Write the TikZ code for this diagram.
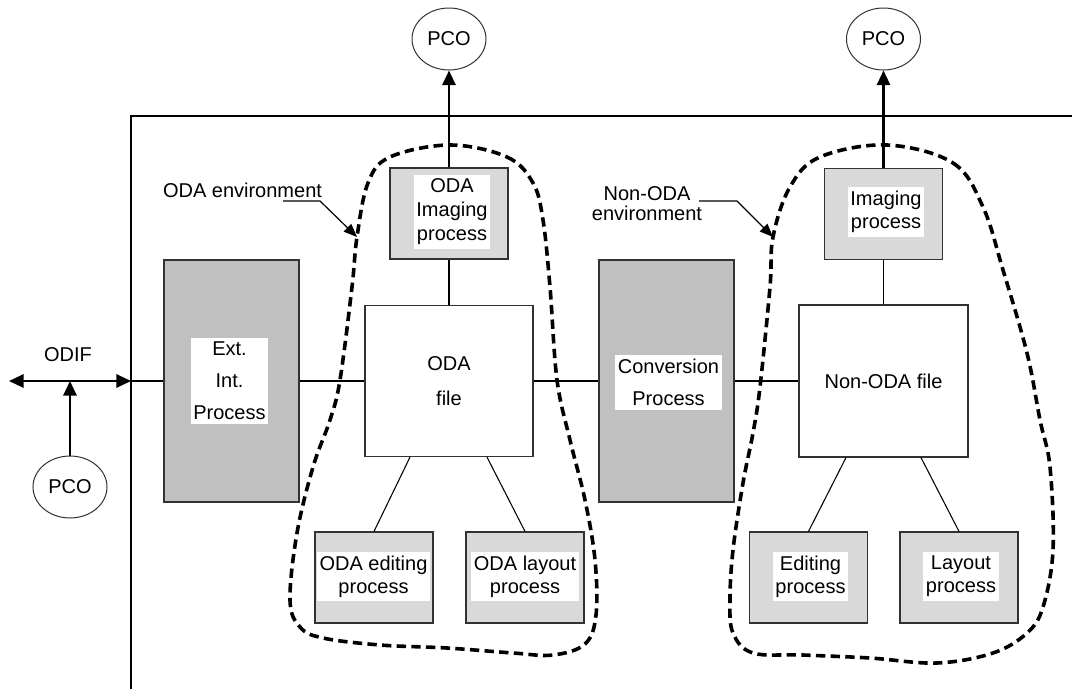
\documentclass[tikz,border=0pt]{standalone}
\usepackage{fontspec}
\setmainfont{Liberation Sans}
\usetikzlibrary{arrows.meta,calc,shapes.geometric}
\definecolor{darkbox}{RGB}{192,192,192}
\definecolor{lightbox}{RGB}{217,217,217}
\definecolor{edge}{RGB}{50,50,50}
\begin{document}
\begin{tikzpicture}[x=0.75pt,y=-0.75pt,
  font=\fontsize{15}{18}\selectfont,
  bigbox/.style={draw=edge,line width=0.9pt,fill=darkbox,minimum width=101.25pt,minimum height=181.5pt,inner sep=0pt},
  filebox/.style={draw=edge,line width=0.9pt,fill=white,inner sep=0pt,align=center},
  smallbox/.style={draw=edge,line width=0.9pt,fill=lightbox,minimum width=88.5pt,minimum height=68.25pt,inner sep=0pt},
  lbl/.style={fill=white,inner xsep=2pt,inner ysep=3pt,align=center},
  pco/.style={draw=edge,ellipse,line width=0.75pt,minimum width=55.5pt,minimum height=46.5pt,inner sep=0pt},
  conn/.style={line width=1.3pt},
  thinline/.style={line width=0.8pt},
  arr/.style={line width=1.6pt,-{Triangle[length=11pt,width=10pt]}},
  env/.style={line width=2.7pt,dash pattern=on 7pt off 4pt},
  lead/.style={line width=0.9pt,-{Triangle[length=10pt,width=8pt]}}
]
\useasboundingbox (0,0) rectangle (1072,689);

% frame
\draw[line width=0.8pt] (1072,116) -- (131,116) -- (131,689);

% PCO ellipses
\node[pco] (pcoA) at (449,39) {PCO};
\node[pco] (pcoB) at (883.5,39) {PCO};
\node[pco] (pcoC) at (70,487) {PCO};

% big boxes
\node[bigbox] (ext) at (231.5,381) {};
\node[lbl,font=\fontsize{15}{24}\selectfont] (extT) at (229.5,381) {Ext.\\Int.\\Process};
\node[bigbox] (conv) at (666.5,381) {};
\node[lbl,font=\fontsize{15}{24}\selectfont] (convT) at (668.5,382.5) {Conversion\\Process};

% file boxes
\node[filebox,minimum width=126pt,minimum height=113.25pt,font=\fontsize{15}{26}\selectfont] (oda) at (449,381) {ODA\\file};
\node[filebox,minimum width=126.75pt,minimum height=114pt] (nonoda) at (883.5,381) {Non-ODA file};

% small boxes
\node[smallbox] (odaimg) at (449,213.5) {};
\node[lbl,font=\fontsize{15}{18}\selectfont] (odaimgT) at (452,212) {ODA\\Imaging\\process};
\node[smallbox] (img) at (883.5,214) {};
\node[lbl,font=\fontsize{15}{17.5}\selectfont] (imgT) at (886,212) {Imaging\\process};
\node[smallbox] (odaed) at (374,577.5) {};
\node[lbl,font=\fontsize{15}{17.5}\selectfont] (odaedT) at (373.5,576.5) {ODA editing\\process};
\node[smallbox] (odalay) at (525,577.5) {};
\node[lbl,font=\fontsize{15}{17.5}\selectfont] (odalayT) at (525,576.5) {ODA layout\\process};
\node[smallbox] (ed) at (808.5,577.5) {};
\node[lbl,font=\fontsize{15}{17.5}\selectfont] (edT) at (810.5,576.5) {Editing\\process};
\node[smallbox] (lay) at (959,577.5) {};
\node[lbl,font=\fontsize{15}{17.5}\selectfont] (layT) at (961,576.5) {Layout\\process};

% ODIF
\coordinate (odifL) at (9,381);
\coordinate (odifR) at (131,381);
\coordinate (odifJ) at (70,381);
\node[anchor=base] (odif) at (68,361) {ODIF};
\draw[line width=1.6pt,{Triangle[length=11pt,width=10pt]}-{Triangle[length=11pt,width=10pt]}] (odifL) -- (odifR);
\draw[conn] (odifR) -- (ext.west);
\draw[arr] (pcoC) -- (odifJ);

% main connectors
\draw[conn] (ext.east) -- (oda.west);
\draw[conn] (oda.east) -- (conv.west);
\draw[conn] (conv.east) -- (nonoda.west);
\draw[conn] (oda.north) -- (odaimg.south);
\draw[arr] (odaimg.north) -- (pcoA);
\draw[conn] (nonoda.north) -- (img.south);
\draw[arr] (img.north) -- (pcoB);
\draw[thinline] ($(oda.south)+(-39,0)$) -- (odaed.north);
\draw[thinline] ($(oda.south)+(38,0)$) -- (odalay.north);
\draw[thinline] ($(nonoda.south)+(-37.5,0)$) -- (ed.north);
\draw[thinline] ($(nonoda.south)+(37.5,0)$) -- (lay.north);

% environments
\draw[env] plot[smooth cycle, tension=0.6] coordinates {
 (450,145) (507,157) (533,183) (543,220) (550,287) (557,380) (570,440) (585,500)
 (595,560) (596,615) (585,644) (553,655) (513,653) (447,648) (380,645) (323,638)
 (300,627) (290,600) (297,533) (313,467) (330,420) (340,380) (352,287) (357,237)
 (368,183) (390,157)};
\draw[env] plot[smooth cycle, tension=0.6] coordinates {
 (887,145) (953,163) (983,207) (1003,270) (1027,353) (1040,420) (1050,467) (1053,550)
 (1043,607) (1027,633) (993,653) (937,663) (870,658) (803,655) (753,653) (733,633)
 (730,600) (733,550) (743,483) (753,433) (760,387) (770,287) (773,237) (790,187)
 (820,157)};

% environment labels
\node[anchor=base] (envAT) at (242.5,197) {ODA environment};
\coordinate (kA1) at (283,201);
\coordinate (kA2) at (320,201);
\coordinate (envA) at (357,237);
\draw[lead] (kA1) -- (kA2) -- (envA);
\node[align=center,font=\fontsize{15}{15}\selectfont] (envBT) at (647,204) {Non-ODA\\environment};
\coordinate (kB1) at (699,201);
\coordinate (kB2) at (737,201);
\coordinate (envB) at (773,237);
\draw[lead] (kB1) -- (kB2) -- (envB);
\end{tikzpicture}
\end{document}
